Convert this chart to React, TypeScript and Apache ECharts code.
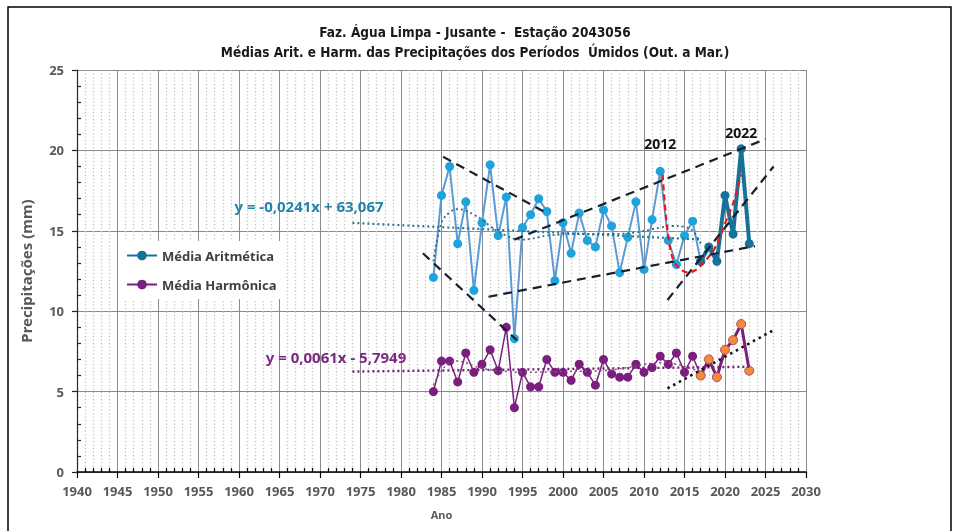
import { useEffect, useRef } from "react";
import * as echarts from "echarts";

// ---------- data ----------
const firstYear = 1984;
const splitYear = 2017;
const mediaAritmetica = [
  12.1, 17.2, 19.0, 14.2, 16.8, 11.3, 15.5, 19.1, 14.7, 17.1,
  8.3, 15.2, 16.0, 17.0, 16.2, 11.9, 15.5, 13.6, 16.1, 14.4,
  14.0, 16.3, 15.3, 12.4, 14.6, 16.8, 12.6, 15.7, 18.7, 14.4,
  12.9, 14.7, 15.6, 13.1, 14.0, 13.1, 17.2, 14.8, 20.1, 14.2,
];
const mediaHarmonica = [
  5.0, 6.9, 6.9, 5.6, 7.4, 6.2, 6.7, 7.6, 6.3, 9.0,
  4.0, 6.2, 5.3, 5.3, 7.0, 6.2, 6.2, 5.7, 6.7, 6.2,
  5.4, 7.0, 6.1, 5.9, 5.9, 6.7, 6.2, 6.5, 7.2, 6.7,
  7.4, 6.2, 7.2, 6.0, 7.0, 5.9, 7.6, 8.2, 9.2, 6.3,
];
const blueTrend = { slope: -0.0241, intercept: 63.067, from: 1974, to: 2017 };
const purpleTrend = { slope: 0.0061, intercept: -5.7949, from: 1974, to: 2023 };
const bluePoly = [
  [1984, 13.1], [1985, 15.5], [1986, 16.15], [1987, 16.35], [1988, 16.25],
  [1989, 16.0], [1990, 15.7], [1991, 15.3], [1992, 14.95], [1993, 14.7],
  [1994, 14.5], [1995, 14.45], [1996, 14.5], [1997, 14.6], [1998, 14.7],
  [2002, 14.8], [2006, 14.8], [2009, 14.9], [2011, 15.1], [2012, 15.2],
  [2013.5, 15.3], [2015, 15.25], [2016, 15.0], [2017, 14.2],
];
const purplePoly = [
  [1984, 5.4], [1985, 6.3], [1986, 6.8], [1987, 6.9], [1988, 6.8],
  [1989, 6.6], [1990, 6.45], [1992, 6.3], [1995, 6.2], [2000, 6.25],
  [2005, 6.3], [2008, 6.5], [2010, 6.7], [2012, 6.8], [2014, 6.7],
  [2016, 6.4], [2017, 6.2],
];
const channelLines = [
  [[1985.2, 19.6], [1998, 16.1]],
  [[1982.7, 13.6], [1994.3, 8.2]],
  [[1994, 14.45], [2025, 20.7]],
  [[1990.8, 10.9], [2023.7, 14.05]],
  [[2012.9, 10.7], [2026, 19.0]],
];
const purpleChannel = [[2012.9, 5.2], [2025.9, 8.8]];
const redCurve = [
  [2012.3, 18.5], [2012.6, 16.5], [2013, 14.65], [2013.6, 13.2], [2014.5, 12.6],
  [2015.5, 12.4], [2016.5, 12.6], [2017.5, 13.1], [2018.6, 13.8], [2019.4, 14.65],
  [2020.2, 15.7], [2021, 16.7], [2022, 18.5],
];
const xMin = 1940, xMax = 2030, xStep = 5;
const yMin = 0, yMax = 25, yStep = 5;
const titleLines = [
  "Faz. Água Limpa - Jusante -  Estação 2043056",
  "Médias Arit. e Harm. das Precipitações dos Períodos  Úmidos (Out. a Mar.)",
];
const annotations = [
  { text: "2012", year: 2012 },
  { text: "2022", year: 2022 },
];

const SANS = "'Noto Sans', 'DejaVu Sans', sans-serif";
const NARROW = "'Liberation Sans Narrow', 'DejaVu Sans Condensed', sans-serif";

export default function App() {
  const ref = useRef<HTMLDivElement>(null);
  useEffect(() => {
    if (!ref.current) return;
    const chart = echarts.init(ref.current, undefined, { renderer: "svg" });
    const pairsA = mediaAritmetica.map((v, i) => [firstYear + i, v]);
    const pairsH = mediaHarmonica.map((v, i) => [firstYear + i, v]);
    const lightA = pairsA.filter((p) => p[0] <= splitYear);
    const darkA = pairsA.filter((p) => p[0] >= splitYear);
    const thinH = pairsH.filter((p) => p[0] <= splitYear);
    const thickH = pairsH.filter((p) => p[0] >= splitYear);
    const lin = (t: typeof blueTrend) => [
      [t.from, t.slope * t.from + t.intercept],
      [t.to, t.slope * t.to + t.intercept],
    ];

    const grid = { left: 77, right: 154, top: 70, bottom: 59 };
    const gray = "#595959";

    const option: any = {
      animation: false,
      grid,
      legend: {
        data: ["Média Aritmética", "Média Harmônica"],
        orient: "vertical",
        left: 120,
        top: 241,
        backgroundColor: "#fff",
        padding: [8, 6, 8, 6],
        itemGap: 16,
        itemWidth: 30,
        itemHeight: 12,
        textStyle: { fontFamily: SANS, fontSize: 13, fontWeight: "bold", color: "#404040" },
      },
      xAxis: [
        {
          type: "value", min: xMin, max: xMax, interval: xStep,
          name: "Ano", nameLocation: "middle", nameGap: 37,
          nameTextStyle: { fontFamily: SANS, fontSize: 11, fontWeight: "bold", color: gray },
          axisLine: { show: true, onZero: false, lineStyle: { color: "#000", width: 1.5 } },
          axisTick: { show: true, length: 6, lineStyle: { color: "#000", width: 1.2 } },
          axisLabel: {
            fontFamily: SANS, fontSize: 13, fontWeight: "bold", color: gray, margin: 12,
            formatter: (v: number) => String(v),
          },
          splitLine: { show: true, lineStyle: { color: "#8a8a8a", width: 1 } },
          minorTick: { show: false, splitNumber: 5 },
          minorSplitLine: { show: true, lineStyle: { color: "#c2c2c2", width: 1.3, type: [1.3, 2.2] } },
        },
        {
          type: "value", min: xMin, max: xMax, interval: xStep, position: "bottom",
          axisLine: { show: false, onZero: false },
          axisTick: { show: false, inside: true },
          axisLabel: { show: false },
          splitLine: { show: false },
          minorTick: { show: true, splitNumber: 5, length: 4, lineStyle: { color: "#000", width: 1.2 } },
        },
      ],
      yAxis: [
        {
          type: "value", min: yMin, max: yMax, interval: yStep,
          name: "Precipitações (mm)", nameLocation: "middle", nameGap: 44,
          nameTextStyle: { fontFamily: SANS, fontSize: 15, fontWeight: "bold", color: gray },
          axisLine: { show: true, onZero: false, lineStyle: { color: "#262626", width: 1.2 } },
          axisTick: { show: true, length: 5, lineStyle: { color: "#262626", width: 1.2 } },
          axisLabel: { fontFamily: SANS, fontSize: 13, fontWeight: "bold", color: gray, margin: 13 },
          splitLine: { show: true, lineStyle: { color: "#8a8a8a", width: 1 } },
        },
        {
          type: "value", min: yMin, max: yMax, interval: yStep, position: "left",
          axisLine: { show: false, onZero: false },
          axisTick: { show: false, inside: true },
          axisLabel: { show: false },
          splitLine: { show: false },
          minorTick: { show: true, splitNumber: 5, length: 4, lineStyle: { color: "#262626", width: 1.2 } },
        },
      ],
      series: [
        {
          name: "light", type: "line", data: lightA, symbol: "circle", symbolSize: 9,
          lineStyle: { color: "#5A9BD5", width: 2 }, itemStyle: { color: "#1FA3DC" }, z: 3,
        },
        {
          name: "Média Aritmética", type: "line", data: darkA, symbol: "circle", symbolSize: 9,
          lineStyle: { color: "#17729A", width: 4 }, itemStyle: { color: "#17729A" }, z: 3,
        },
        {
          name: "Média Harmônica", type: "line", data: thinH, symbol: "circle", symbolSize: 9,
          lineStyle: { color: "#7B1F7F", width: 1.5 }, itemStyle: { color: "#7B1F7F" }, z: 3,
        },
        {
          name: "harmThick", type: "line", data: thickH, symbol: "circle", symbolSize: 9,
          lineStyle: { color: "#7B1F7F", width: 3 },
          itemStyle: { color: "#F58A3E", borderColor: "#B04A5A", borderWidth: 1 }, z: 3,
        },
        {
          name: "blueTrend", type: "line", data: lin(blueTrend), symbol: "none",
          lineStyle: { color: "#2A7A92", width: 2.2, type: [2, 3] }, z: 4,
        },
        {
          name: "bluePoly", type: "line", data: bluePoly, symbol: "none", smooth: 0.4,
          lineStyle: { color: "#2A6F86", width: 1.8, type: [2, 3] }, z: 4,
        },
        {
          name: "purpleTrend", type: "line", data: lin(purpleTrend), symbol: "none",
          lineStyle: { color: "#6E2072", width: 2.4, type: [2, 3] }, z: 4,
        },
        {
          name: "purplePoly", type: "line", data: purplePoly, symbol: "none", smooth: 0.4,
          lineStyle: { color: "#8A4A8E", width: 1.5, type: [2, 3] }, z: 4,
        },
        ...channelLines.map((d, i) => ({
          name: "channel" + i, type: "line", data: d, symbol: "none",
          lineStyle: { color: "#14222F", width: 2.2, type: [9, 6] }, z: 5,
        })),
        {
          name: "purpleChannel", type: "line", data: purpleChannel, symbol: "none",
          lineStyle: { color: "#111", width: 2.6, type: [2.5, 4] }, z: 5,
        },
        {
          name: "redCurve", type: "line", data: redCurve, symbol: "none", smooth: 0.35,
          lineStyle: { color: "#E8191B", width: 2.2, type: [6, 4] }, z: 6,
        },
      ],
    };
    chart.setOption(option);

    // overlays positioned with the chart's own scales
    const px = (x: number, y: number) => chart.convertToPixel({ gridIndex: 0 }, [x, y]) as number[];
    const annText = annotations.map((a, i) => {
      const idx = a.year - firstYear;
      const p = px(a.year, mediaAritmetica[idx]);
      return {
        type: "text",
        x: p[0],
        y: i === 0 ? 143 : 132,
        style: {
          text: a.text, fill: "#111", font: `bold 14px ${SANS}`,
          textAlign: "center", textVerticalAlign: "middle",
        },
      };
    });
    chart.setOption({
      graphic: [
        {
          type: "rect", shape: { x: 8, y: 7, width: 943, height: 600 },
          style: { fill: "none", stroke: "#000", lineWidth: 1.5 }, silent: true,
        },
        ...titleLines.map((t, i) => ({
          type: "text", x: 475, y: 32 + i * 20,
          style: {
            text: t, fill: "#1a1a1a", font: `bold 13.5px ${NARROW}`,
            textAlign: "center", textVerticalAlign: "middle",
          },
        })),
        {
          type: "text", x: 309, y: 206,
          style: {
            text: "y = -0,0241x + 63,067", fill: "#2484A8", font: `bold 15px ${SANS}`,
            textAlign: "center", textVerticalAlign: "middle",
          },
        },
        {
          type: "text", x: 336, y: 357,
          style: {
            text: "y = 0,0061x - 5,7949", fill: "#7B2A80", font: `bold 15px ${SANS}`,
            textAlign: "center", textVerticalAlign: "middle",
          },
        },
        ...annText,
      ],
    });
    return () => chart.dispose();
  }, []);
  return <div ref={ref} style={{ position: "fixed", left: 0, top: 0, width: 960, height: 531 }} />;
}
